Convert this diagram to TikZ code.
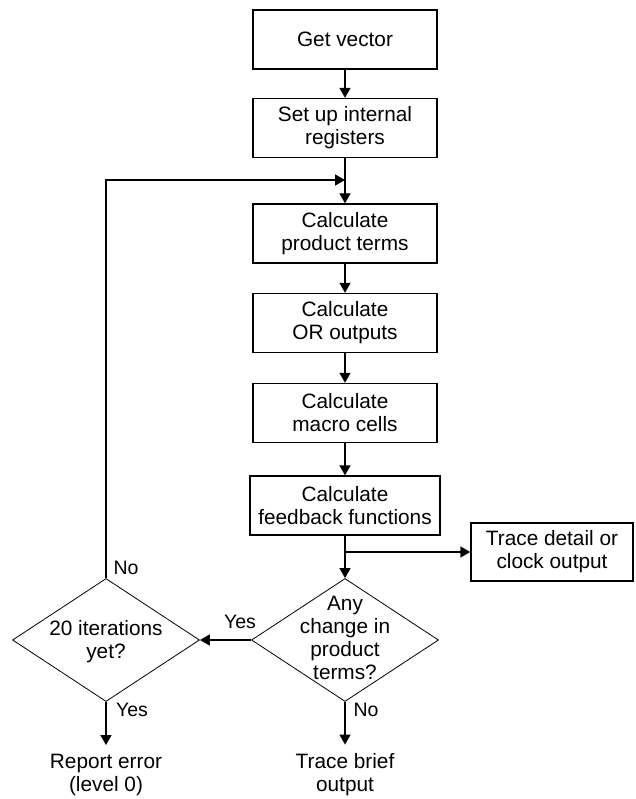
\documentclass[tikz,border=0pt]{standalone}
\usepackage{fontspec}
\setmainfont{Liberation Sans}
\usetikzlibrary{shapes.geometric,arrows.meta}
\newcommand{\dlines}[1]{\smash{\makebox[0pt]{\raisebox{-0.25em}{\begin{tabular}{@{}c@{}}#1\end{tabular}}}}}

\begin{document}
\begin{tikzpicture}[x=1pt,y=-1pt,
  box/.style={rectangle,draw,line width=1.4pt,minimum width=184pt,minimum height=59pt,inner sep=2pt,align=center,font=\fontsize{20.8}{23}\selectfont},
  decision/.style={diamond,draw,line width=0.8pt,minimum width=187pt,minimum height=123pt,inner sep=0pt,font=\fontsize{20.8}{23}\selectfont},
  endtext/.style={inner sep=9pt,align=center,font=\fontsize{20.8}{23}\selectfont},
  answer/.style={inner sep=0pt,font=\fontsize{19.5}{22}\selectfont},
  flow/.style={line width=1.4pt,-{Triangle[length=10pt,width=11pt]}}]
  \useasboundingbox (0,0) rectangle (635,799);

  \node[box] (getvec) at (345,39.5) {Get vector};
  \node[box] (setup) at (345,128) {Set up internal\\registers};
  \node[box] (prod) at (345,233.5) {Calculate\\product terms};
  \node[box] (orout) at (345,323) {Calculate\\OR outputs};
  \node[box] (macro) at (345,413) {Calculate\\macro cells};
  \node[box,minimum width=190pt] (feedb) at (345,505.5) {Calculate\\feedback functions};
  \node[box,minimum width=162pt,minimum height=58pt] (trace) at (552,552) {Trace detail or\\clock output};
  \node[decision] (change) at (345,640) {\dlines{Any\\change in\\product\\terms?}};
  \node[decision] (iter) at (106,640) {\raisebox{-4pt}{\dlines{20 iterations\\yet?}}};
  \node[endtext] (report) at (106,775) {Report error\\(level 0)};
  \node[endtext] (brief) at (345,775) {Trace brief\\output};
  \coordinate (loop) at (345,180);
  \coordinate (branch) at (345,552);

  \node[answer] (lno) at (126,568) {No};
  \node[answer] (lyes) at (240,622) {Yes};
  \node[answer] (lyes2) at (132,710) {Yes};
  \node[answer] (lno2) at (366,710) {No};

 \path (getvec) [flow] edge (setup);
 \path (setup) [flow] edge (prod);
 \path (prod) [flow] edge (orout);
 \path (orout) [flow] edge (macro);
 \path (macro) [flow] edge (feedb);
 \path (feedb) [flow] edge (change);
 \path (branch) [flow] edge (trace.west);
 \path (change.west) [flow] edge (iter.east);
 \path (change.south) [flow] edge (brief.north);
 \path (iter.south) [flow] edge (report.north);
 \draw[flow] (iter.north) |- (loop);
\end{tikzpicture}
\end{document}
